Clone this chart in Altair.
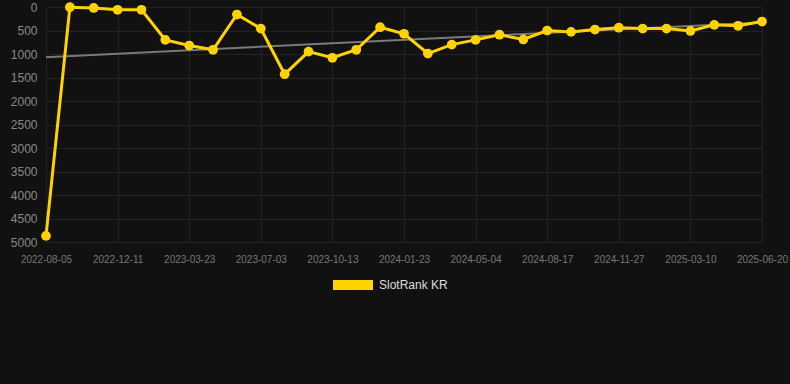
import altair as alt
import pandas as pd

tick_labels = ["2022-08-05", "2022-12-11", "2023-03-23", "2023-07-03", "2023-10-13",
               "2024-01-23", "2024-05-04", "2024-08-17", "2024-11-27", "2025-03-10", "2025-06-20"]
ranks = [4870, 5, 20, 60, 60, 700, 820, 910, 160, 460, 1430, 950, 1080, 910, 430, 570,
         990, 800, 700, 590, 690, 500, 530, 480, 440, 460, 460, 510, 380, 400, 310]
series_name = "SlotRank KR"

df = pd.DataFrame({"idx": list(range(len(ranks))), "rank": ranks, "series": series_name})

label_arr = "[" + ",".join("'%s'" % t for t in tick_labels) + "]"

GOLD = "#FFD200"

x = alt.X("idx:Q", scale=alt.Scale(domain=[0, 30], nice=False, zero=False),
          axis=alt.Axis(values=list(range(0, 31, 3)), labelExpr=label_arr + "[round(datum.value/3)]",
                        title=None, grid=True, gridColor="#222222", domain=False, ticks=False,
                        labelColor="#777777", labelFontSize=10, labelPadding=12,
                        labelOverlap=False, labelFlush=False, labelBound=False,
                        labelFont="Liberation Sans"))
y = alt.Y("rank:Q", scale=alt.Scale(domain=[0, 5000], reverse=True, nice=False),
          axis=alt.Axis(values=list(range(0, 5001, 500)), format="d", title=None, grid=True,
                        gridColor="#222222", domain=False, ticks=False, labelColor="#8a8a8a",
                        labelFontSize=12, labelPadding=9, labelFont="Liberation Sans"))

base = alt.Chart(df)

trend = base.transform_regression("idx", "rank").mark_line(color="#7a7a7a", strokeWidth=2).encode(x=x, y=y)

line = base.mark_line(strokeWidth=3, color=GOLD).encode(x=x, y=y)
points = base.mark_circle(size=95, opacity=1).encode(
    x=x, y=y,
    color=alt.Color("series:N", scale=alt.Scale(range=[GOLD]),
                    legend=alt.Legend(title=None, orient="none", legendX=287, legendY=258,
                                      symbolType="M-1,-0.25L1,-0.25L1,0.25L-1,0.25Z", symbolSize=1600,
                                      symbolFillColor=GOLD, symbolStrokeColor=GOLD,
                                      symbolStrokeWidth=0, symbolOpacity=1,
                                      labelColor="#dddddd", labelFontSize=12, labelOffset=6,
                                      labelFont="Liberation Sans"))
)

chart = alt.layer(trend, line, points).properties(
    width=716, height=235, background="#111111",
    padding={"left": 46, "top": 7, "right": 28, "bottom": 142},
    autosize=alt.AutoSizeParams(type="none")
).configure_view(stroke=None)

chart.save("out.html", embed_options={"renderer": "svg", "actions": False})
